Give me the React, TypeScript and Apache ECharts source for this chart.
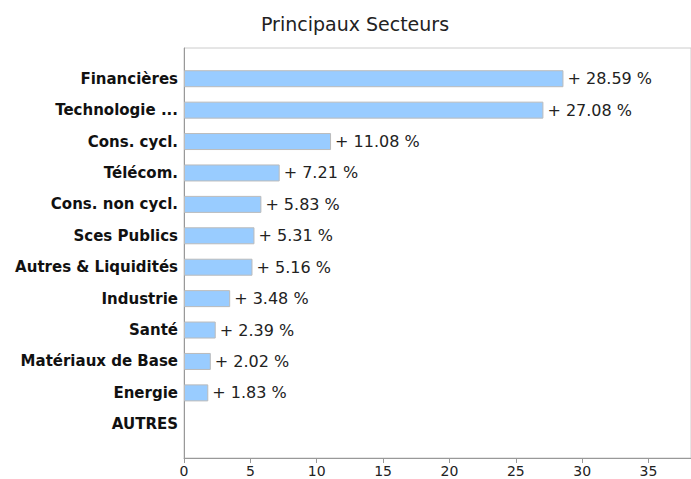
import React, { useEffect, useRef } from "react";
import * as echarts from "echarts";

const title = "Principaux Secteurs";
const categories = [
  "Financières",
  "Technologie ...",
  "Cons. cycl.",
  "Télécom.",
  "Cons. non cycl.",
  "Sces Publics",
  "Autres & Liquidités",
  "Industrie",
  "Santé",
  "Matériaux de Base",
  "Energie",
  "AUTRES",
];
const values: (number | null)[] = [28.59, 27.08, 11.08, 7.21, 5.83, 5.31, 5.16, 3.48, 2.39, 2.02, 1.83, null];
const axisMin = 0;
const axisMax = 38.2;
const tickInterval = 5;

export default function App() {
  const ref = useRef<HTMLDivElement>(null);
  useEffect(() => {
    if (!ref.current) return;
    const chart = echarts.init(ref.current, undefined, { renderer: "svg" });
    const font = "DejaVu Sans";
    chart.setOption({
      animation: false,
      backgroundColor: "#ffffff",
      title: {
        text: title,
        left: 350,
        top: 9,
        textAlign: "center",
        textStyle: { fontFamily: font, fontSize: 19, fontWeight: "normal", color: "#222" },
      },
      grid: [
        { left: 184, right: 0, top: 48, bottom: 21, show: true, borderColor: "#cccccc", borderWidth: 1, backgroundColor: "transparent" },
        { left: 184, right: 0, top: 63, bottom: 39 },
      ],
      xAxis: [
        {
          gridIndex: 0,
          type: "value",
          min: axisMin,
          max: axisMax,
          interval: tickInterval,
          splitLine: { show: false },
          axisLine: { show: true, lineStyle: { color: "#999999" } },
          axisTick: { show: true, length: 5, lineStyle: { color: "#999999" } },
          axisLabel: {
            showMaxLabel: false,
            fontFamily: font,
            fontSize: 14,
            color: "#222",
            margin: 6,
            formatter: (v: number) => (v % tickInterval === 0 ? String(v) : ""),
          },
        },
        {
          gridIndex: 1,
          type: "value",
          min: axisMin,
          max: axisMax,
          show: false,
        },
      ],
      yAxis: [
        {
          gridIndex: 0,
          type: "value",
          min: 0,
          max: 1,
          axisLine: { show: true, lineStyle: { color: "#999999" } },
          axisTick: { show: false },
          axisLabel: { show: false },
          splitLine: { show: false },
        },
        {
          gridIndex: 1,
          type: "category",
          data: categories,
          inverse: true,
          axisLine: { show: false },
          axisTick: { show: false },
          axisLabel: {
            fontFamily: font,
            fontSize: 15,
            fontWeight: "bold",
            color: "#111",
            margin: 6,
          },
        },
      ],
      series: [
        {
          type: "bar",
          xAxisIndex: 1,
          yAxisIndex: 1,
          data: values,
          barWidth: 17,
          itemStyle: { color: "#99ccff", borderColor: "#bbbbbb", borderWidth: 1 },
          label: {
            show: true,
            position: "right",
            distance: 4,
            fontFamily: font,
            fontSize: 16,
            color: "#222",
            formatter: (p: any) => (p.value == null ? "" : "+ " + p.value.toFixed(2) + " %"),
          },
        },
      ],
    });
    return () => chart.dispose();
  }, []);
  return <div ref={ref} style={{ width: 691, height: 479, position: "absolute", left: 0, top: 0 }} />;
}
